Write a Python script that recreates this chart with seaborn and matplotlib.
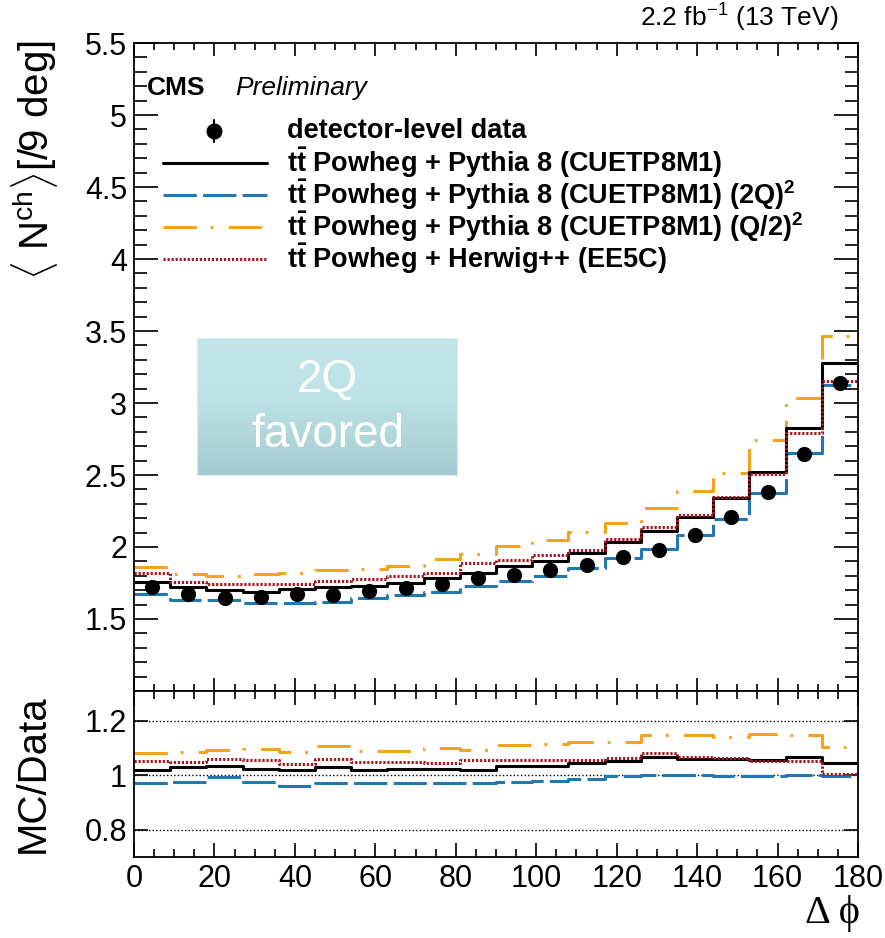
import numpy as np
import matplotlib
matplotlib.use("Agg")
import matplotlib.pyplot as plt
from matplotlib.colors import LinearSegmentedColormap
from matplotlib.lines import Line2D
from matplotlib.patches import Rectangle
from matplotlib.ticker import MultipleLocator, FixedLocator, FuncFormatter
import seaborn as sns

# ---- binning: 20 bins of 9 degrees in delta phi ----
bin_edges = np.arange(0, 181, 9)
bin_centers = (bin_edges[:-1] + bin_edges[1:]) / 2

# ---- detector-level data: mean charged multiplicity per 9 deg ----
data_nch = [1.723, 1.673, 1.645, 1.650, 1.677, 1.666, 1.696, 1.714, 1.742, 1.783,
            1.804, 1.838, 1.873, 1.933, 1.981, 2.082, 2.206, 2.381, 2.648, 3.140]
data_err = [0.012, 0.011, 0.011, 0.011, 0.011, 0.011, 0.011, 0.011, 0.012, 0.012,
            0.012, 0.012, 0.013, 0.013, 0.014, 0.015, 0.016, 0.018, 0.021, 0.026]

# ---- simulation predictions ----
pythia_nominal = [1.757, 1.722, 1.703, 1.688, 1.709, 1.719, 1.728, 1.753, 1.782, 1.817,
                  1.867, 1.902, 1.957, 2.032, 2.112, 2.207, 2.338, 2.519, 2.823, 3.281]
pythia_2q = [1.673, 1.633, 1.634, 1.610, 1.612, 1.618, 1.647, 1.668, 1.690, 1.731,
             1.761, 1.801, 1.851, 1.925, 1.983, 2.084, 2.197, 2.376, 2.651, 3.127]
pythia_q2 = [1.863, 1.815, 1.800, 1.810, 1.820, 1.843, 1.850, 1.870, 1.918, 1.951,
             2.006, 2.051, 2.102, 2.169, 2.272, 2.388, 2.515, 2.745, 3.037, 3.463]
herwig_ee5c = [1.816, 1.757, 1.744, 1.746, 1.746, 1.766, 1.781, 1.800, 1.820, 1.886,
               1.909, 1.945, 1.982, 2.057, 2.141, 2.219, 2.345, 2.510, 2.791, 3.153]

legend_labels = [
    "detector-level data",
    r"$\mathbf{t\bar{t}}$ Powheg + Pythia 8 (CUETP8M1)",
    r"$\mathbf{t\bar{t}}$ Powheg + Pythia 8 (CUETP8M1) (2Q)$^{\mathbf{2}}$",
    r"$\mathbf{t\bar{t}}$ Powheg + Pythia 8 (CUETP8M1) (Q/2)$^{\mathbf{2}}$",
    r"$\mathbf{t\bar{t}}$ Powheg + Herwig++ (EE5C)",
]

sns.set_theme(style="ticks")
plt.rcParams.update({
    "font.family": ["Liberation Sans", "DejaVu Sans"],
    "mathtext.fontset": "custom",
    "mathtext.rm": "Liberation Sans",
    "mathtext.bf": "Liberation Sans:bold",
    "mathtext.it": "Liberation Sans:italic",
    "lines.scale_dashes": False,
    "axes.linewidth": 1.3,
    "axes.edgecolor": "black",
    "text.color": "black",
    "xtick.color": "black",
    "ytick.color": "black",
    "xtick.labelcolor": "black",
    "ytick.labelcolor": "black",
})

W, H = 885, 938
fx = lambda px: px / W
fy = lambda py: 1 - py / H

fig = plt.figure(figsize=(W / 100, H / 100), dpi=100)
x0, x1 = 134, 858
ax1 = fig.add_axes([fx(x0), fy(691), (x1 - x0) / W, (691 - 43) / H])
ax2 = fig.add_axes([fx(x0), fy(857), (x1 - x0) / W, (857 - 691) / H])

styles = {
    "nominal": dict(color="black", linewidth=2.2, linestyle="-"),
    "2q": dict(color="#2178b0", linewidth=2.2, linestyle=(0, (24, 4.5))),
    "q2": dict(color="#f7a21b", linewidth=2.2, linestyle=(0, (24, 10, 2, 11))),
    "herwig": dict(color="#a01a22", linewidth=2.2, linestyle=(0, (1.6, 1.3))),
}
series = [("q2", pythia_q2), ("2q", pythia_2q), ("nominal", pythia_nominal), ("herwig", herwig_ee5c)]


def draw_step(ax, values, style):
    y = np.append(values, values[-1])
    sns.lineplot(x=bin_edges, y=y, ax=ax, drawstyle="steps-post", estimator=None,
                 sort=False, errorbar=None, legend=False, **style)


# ---- main panel ----
for key, vals in series:
    draw_step(ax1, np.asarray(vals), styles[key])
ax1.errorbar(bin_centers, data_nch, yerr=data_err, fmt="none", ecolor="black",
             elinewidth=1.5, capsize=0, zorder=9)
sns.scatterplot(x=bin_centers, y=data_nch, ax=ax1, color="black", s=120,
                linewidth=0, zorder=10, legend=False)

ax1.set_xlim(0, 180)
ax1.set_ylim(1.0, 5.5)
ax1.xaxis.set_major_locator(MultipleLocator(20))
ax1.xaxis.set_minor_locator(MultipleLocator(5))
ax1.yaxis.set_major_locator(MultipleLocator(0.5))
ax1.yaxis.set_minor_locator(MultipleLocator(0.1))
ax1.yaxis.set_major_formatter(FuncFormatter(lambda v, p: "" if abs(v - 1) < 1e-6 else f"{v:g}"))
ax1.tick_params(which="both", direction="in", top=True, right=True, width=1.2,
                labelbottom=False, labelsize=22, pad=5)
ax1.tick_params(axis="x", which="major", length=9.5)
ax1.tick_params(axis="x", which="minor", length=5)
ax1.tick_params(axis="y", which="major", length=17)
ax1.tick_params(axis="y", which="minor", length=9.5)
ax1.set_xlabel("")
ax1.set_ylabel("")

# ---- ratio panel ----
data_arr = np.asarray(data_nch)
for yv in (0.8, 1.0, 1.2):
    ax2.axhline(yv, color="black", linewidth=1.0, linestyle=(0, (1, 1.6)), zorder=0)
for key, vals in series:
    draw_step(ax2, np.asarray(vals) / data_arr, styles[key])

ax2.set_xlim(0, 180)
ax2.set_ylim(0.7, 1.31)
ax2.xaxis.set_major_locator(MultipleLocator(20))
ax2.xaxis.set_minor_locator(MultipleLocator(5))
ax2.yaxis.set_major_locator(FixedLocator([0.8, 1.0, 1.2]))
ax2.yaxis.set_major_formatter(FuncFormatter(lambda v, p: f"{v:g}"))
ax2.tick_params(which="both", direction="in", top=True, right=True, width=1.2,
                labelsize=22, pad=5)
ax2.tick_params(axis="x", which="major", length=10)
ax2.tick_params(axis="x", which="minor", length=5.5)
ax2.tick_params(axis="y", which="major", length=10)
ax2.set_xlabel("")
ax2.set_ylabel("")

# ---- axis titles ----
fig.text(fx(35), fy(40), r"$\langle$ N$^{\mathregular{ch}}$$\rangle$[/9 deg]", rotation=90,
         ha="center", va="top", fontsize=29)
fig.text(fx(33), fy(774), "MC/Data", rotation=90, ha="center", va="center", fontsize=29)
fig.text(fx(860), fy(913), "Δ ϕ", ha="right", va="center", fontsize=29,
         family=["Liberation Serif", "DejaVu Serif"])
fig.text(fx(838), fy(18), r"2.2 fb$^{\mathregular{-1}}$ (13 TeV)", ha="right", va="center",
         fontsize=19)
fig.text(fx(147), fy(88), "CMS", ha="left", va="center", fontsize=19, fontweight="bold")
fig.text(fx(235), fy(88), "Preliminary", ha="left", va="center", fontsize=19, fontstyle="italic")

# ---- legend ----
rows = [131, 163, 195, 227, 259]
key_x0, key_x1, text_x = 163, 267, 287
fig.add_artist(Line2D([fx(214)] * 2, [fy(131 - 11), fy(131 + 11)], transform=fig.transFigure,
                      color="black", linewidth=1.5))
fig.add_artist(Line2D([fx(214)], [fy(131)], transform=fig.transFigure, color="black",
                      marker="o", markersize=10.5, linestyle="none"))
for key, row in zip(["nominal", "2q", "q2", "herwig"], rows[1:]):
    fig.add_artist(Line2D([fx(key_x0), fx(key_x1)], [fy(row)] * 2, transform=fig.transFigure,
                          **styles[key]))
for label, row in zip(legend_labels, rows):
    fig.text(fx(text_x), fy(row), label, ha="left", va="center", fontsize=19.5,
             fontweight="bold")

# ---- annotation box ----
bx0, bx1, by0, by1 = 197, 458, 338, 476
bax = fig.add_axes([fx(bx0), fy(by1), (bx1 - bx0) / W, (by1 - by0) / H])
cmap = LinearSegmentedColormap.from_list(
    "teal", [(0.0, "#c3e5e8"), (0.45, "#bde2e5"), (1.0, "#a3cacf")])
bax.imshow(np.linspace(0, 1, 256).reshape(-1, 1), aspect="auto", cmap=cmap,
           extent=[0, 1, 0, 1], origin="upper")
bax.add_patch(Rectangle((0, 0), 1, 1, transform=bax.transAxes, fill=False,
                        edgecolor="#d3ecee", linewidth=1.5))
bax.set_axis_off()
bax.text(0.5, (by1 - 380) / (by1 - by0), "2Q", ha="center", va="center", color="white",
         fontsize=33)
bax.text(0.5, (by1 - 435) / (by1 - by0), "favored", ha="center", va="center", color="white",
         fontsize=33)

fig.savefig("out.png", dpi=100)
